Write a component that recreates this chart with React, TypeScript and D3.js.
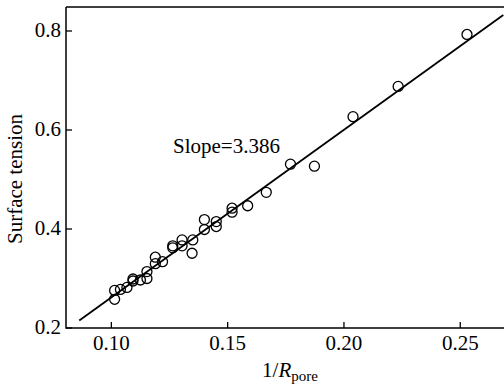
import React from "react";
import * as d3 from "d3";

const xValues = [0.2529, 0.2233, 0.2039, 0.1873, 0.177, 0.1666, 0.1586, 0.1519, 0.1519, 0.1451, 0.1451, 0.140, 0.140, 0.135, 0.1347, 0.1304, 0.1304, 0.1264, 0.1264, 0.122, 0.1189, 0.1189, 0.1153, 0.1153, 0.1125, 0.1093, 0.1093, 0.1067, 0.1039, 0.1014, 0.1014];
const yValues = [0.793, 0.688, 0.627, 0.527, 0.531, 0.474, 0.447, 0.442, 0.434, 0.415, 0.405, 0.419, 0.399, 0.378, 0.351, 0.378, 0.366, 0.366, 0.362, 0.334, 0.343, 0.330, 0.314, 0.300, 0.297, 0.299, 0.295, 0.282, 0.278, 0.276, 0.258];
const xTicks = [0.1, 0.15, 0.2, 0.25];
const yTicks = [0.2, 0.4, 0.6, 0.8];
const slope = 3.386;
const intercept = -0.0768;
const fitRange = [0.0862, 0.2685];

export default function App() {
  const W = 504, H = 386;
  const left = 66, right = 504, top = 7, bottom = 328;
  const x = d3.scaleLinear().domain([0.0805, 0.0805 + (right - left) / 2326]).range([left, right]);
  const y = d3.scaleLinear().domain([0.2, 0.2 + (bottom - top) / 495]).range([bottom, top]);
  const font = "'Liberation Serif', 'Times New Roman', serif";
  const line = d3.line<number>().x((d) => x(d)).y((d) => y(slope * d + intercept));
  return (
    <svg width={W} height={H} style={{ position: "absolute", left: 0, top: 0, background: "#fff" }}>
      <defs>
        <clipPath id="plot">
          <rect x={left} y={top} width={right - left} height={bottom - top} />
        </clipPath>
      </defs>
      <g clipPath="url(#plot)">
        <path d={line(fitRange) || ""} stroke="#000" strokeWidth={1.8} fill="none" />
        {xValues.map((v, i) => (
          <circle key={i} cx={x(v)} cy={y(yValues[i])} r={5} fill="none" stroke="#000" strokeWidth={1.3} />
        ))}
      </g>
      <path d={`M${left},${top}V${bottom}H${right}`} fill="none" stroke="#000" strokeWidth={1.5} />
      <line x1={left} x2={right} y1={top} y2={top} stroke="#000" strokeWidth={1.5} />
      {xTicks.map((t) => (
        <g key={t}>
          <line x1={x(t)} x2={x(t)} y1={bottom} y2={bottom - 6} stroke="#000" strokeWidth={1.3} />
          <text x={x(t)} y={350} textAnchor="middle" fontFamily={font} fontSize={21}>{t.toFixed(2)}</text>
        </g>
      ))}
      {yTicks.map((t) => (
        <g key={t}>
          <line x1={left} x2={left + 6} y1={y(t)} y2={y(t)} stroke="#000" strokeWidth={1.3} />
          <text x={61} y={y(t) + 6} textAnchor="end" fontFamily={font} fontSize={21}>{t.toFixed(1)}</text>
        </g>
      ))}
      <text x={173} y={153} fontFamily={font} fontSize={21}>Slope=3.386</text>
      <text x={290} y={377} textAnchor="middle" fontFamily={font} fontSize={21}>
        1/<tspan fontStyle="italic">R</tspan><tspan fontSize={15} dy={4}>pore</tspan>
      </text>
      <text transform="translate(22,179) rotate(-90)" textAnchor="middle" fontFamily={font} fontSize={21}>Surface tension</text>
    </svg>
  );
}
